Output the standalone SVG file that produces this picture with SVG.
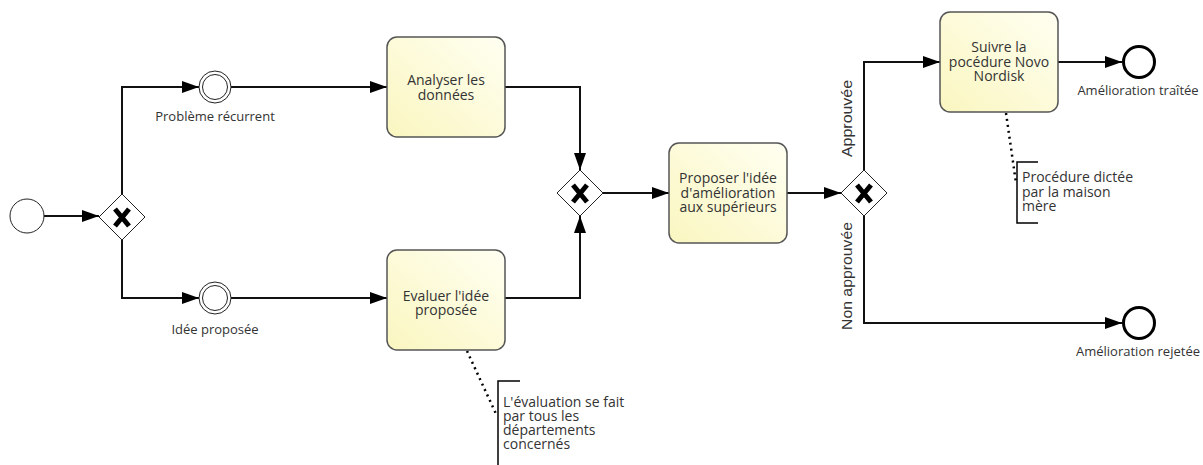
<svg xmlns="http://www.w3.org/2000/svg" width="1203" height="465" viewBox="0 0 1203 465">
<style>
text{font-family:"Open Sans","Liberation Sans",sans-serif;font-size:14px;fill:#333}
.t{text-anchor:middle}
.lbl{font-size:13px}
.rot{font-family:"Liberation Sans",Arial,sans-serif;font-size:14px;text-anchor:middle}
.task{fill:url(#tg);stroke:#555;stroke-width:1.5}
.gw{fill:#fff;stroke:#222;stroke-width:1}
.gx{stroke:#000;stroke-width:5;fill:none}
.flow{fill:none;stroke:#111;stroke-width:2;marker-end:url(#arr)}
.ev{fill:#fff;stroke:#222;stroke-width:1}
.end{fill:#fff;stroke:#000;stroke-width:3}
.assoc{fill:none;stroke:#000;stroke-width:2.5;stroke-dasharray:2 4}
.br{fill:none;stroke:#000;stroke-width:1.5}
</style>
<defs>
<linearGradient id="tg" x1="0" y1="1" x2="1" y2="0">
<stop offset="0" stop-color="#faf6c0"/>
<stop offset="1" stop-color="#fffff2"/>
</linearGradient>
<marker id="arr" markerUnits="userSpaceOnUse" markerWidth="18" markerHeight="14" refX="17" refY="6" orient="auto">
<path d="M0,0 L17,6 L0,12 z" fill="#000"/>
</marker>
</defs>

<g id="connectors">
<path class="flow" d="M44,216 L99,216"/>
<path class="flow" d="M122,194 L122,87 L199,87"/>
<path class="flow" d="M122,240 L122,298 L199,298"/>
<path class="flow" d="M231,87 L387,87"/>
<path class="flow" d="M231,298 L387,298"/>
<path class="flow" d="M505,87 L580,87 L580,170"/>
<path class="flow" d="M505,298 L580,298 L580,216"/>
<path class="flow" d="M603,193 L669,193"/>
<path class="flow" d="M787,193 L841,193"/>
<path class="flow" d="M864,170 L864,62 L940,62"/>
<path class="flow" d="M864,216 L864,323 L1122,323"/>
<path class="flow" d="M1058,62 L1122,62"/>
<path class="assoc" d="M467,351 L497,416"/>
<path class="assoc" d="M1006,113 L1016,183"/>
<text transform="translate(852,118.5) rotate(-90)" class="rot" textLength="77" lengthAdjust="spacingAndGlyphs">Approuvée</text>
<text transform="translate(852,276) rotate(-90)" class="rot" textLength="108" lengthAdjust="spacingAndGlyphs">Non approuvée</text>
</g>

<g id="start">
<circle class="ev" cx="27" cy="216" r="17"/>
</g>

<g id="gw1">
<path class="gw" d="M122,194 L145,217 L122,240 L99,217 z"/>
<path class="gx" d="M115,209 L129,226 M129,209 L115,226"/>
</g>

<g id="ev-probleme">
<circle class="ev" cx="215" cy="87" r="16"/>
<circle class="ev" cx="215" cy="87" r="12.5"/>
<text class="t lbl" x="215" y="120.5">Problème récurrent</text>
</g>

<g id="ev-idee">
<circle class="ev" cx="215" cy="298" r="16"/>
<circle class="ev" cx="215" cy="298" r="12.5"/>
<text class="t lbl" x="215" y="334">Idée proposée</text>
</g>

<g id="task-analyser">
<rect class="task" x="387" y="37" width="118" height="100" rx="10"/>
<text class="t" x="446" y="85">Analyser les</text>
<text class="t" x="446" y="100">données</text>
</g>

<g id="task-evaluer">
<rect class="task" x="387" y="250" width="118" height="100" rx="10"/>
<text class="t" x="446" y="301">Evaluer l'idée</text>
<text class="t" x="446" y="315">proposée</text>
</g>

<g id="gw2">
<path class="gw" d="M580,170 L603,193 L580,216 L557,193 z"/>
<path class="gx" d="M573,185 L587,202 M587,185 L573,202"/>
</g>

<g id="task-proposer">
<rect class="task" x="669" y="143" width="118" height="100" rx="10"/>
<text class="t" x="728" y="183">Proposer l'idée</text>
<text class="t" x="728" y="197.5">d'amélioration</text>
<text class="t" x="728" y="212">aux supérieurs</text>
</g>

<g id="gw3">
<path class="gw" d="M864,170 L887,193 L864,216 L841,193 z"/>
<path class="gx" d="M857,185 L871,202 M871,185 L857,202"/>
</g>

<g id="task-suivre">
<rect class="task" x="940" y="12" width="118" height="100" rx="10"/>
<text class="t" x="999" y="52">Suivre la</text>
<text class="t" x="999" y="66.5">pocédure Novo</text>
<text class="t" x="999" y="81">Nordisk</text>
</g>

<g id="end-traitee">
<circle class="end" cx="1139" cy="62" r="15.5"/>
<text class="t lbl" x="1138" y="95">Amélioration traîtée</text>
</g>

<g id="end-rejetee">
<circle class="end" cx="1139" cy="323" r="15.5"/>
<text class="t lbl" x="1138" y="356">Amélioration rejetée</text>
</g>

<g id="annot-evaluation">
<path class="br" d="M520,381 L498,381 L498,466 L520,466"/>
<text x="503" y="407">L'évaluation se fait</text>
<text x="503" y="421">par tous les</text>
<text x="503" y="435">départements</text>
<text x="503" y="449">concernés</text>
</g>

<g id="annot-procedure">
<path class="br" d="M1038,162 L1017,162 L1017,223 L1038,223"/>
<text x="1022" y="182">Procédure dictée</text>
<text x="1022" y="196.5">par la maison</text>
<text x="1022" y="211">mère</text>
</g>
</svg>
